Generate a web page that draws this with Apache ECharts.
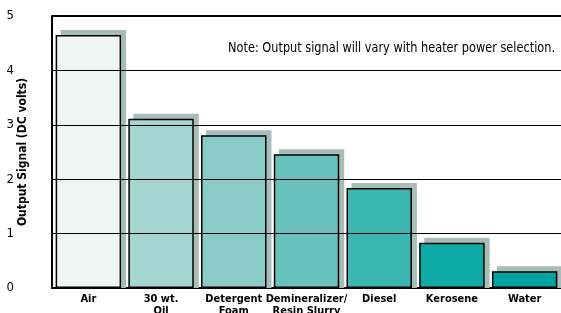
<!DOCTYPE html>
<html>
<head>
<meta charset="utf-8">
<script src="https://cdn.jsdelivr.net/npm/echarts@6/dist/echarts.min.js"></script>
<style>
  html, body { margin: 0; padding: 0; background: #fff; }
  #chart { width: 561px; height: 313px; }
</style>
</head>
<body>
<div id="chart"></div>
<script>
// 数据
var categories = ['Air', '30 wt.\nOil', 'Detergent\nFoam', 'Demineralizer/\nResin Slurry', 'Diesel', 'Kerosene', 'Water'];
var values = [4.65, 3.11, 2.81, 2.46, 1.84, 0.83, 0.31];
var barColors = ['#eef5f2', '#a4d5d0', '#89cbc6', '#68c1bc', '#3cb6b1', '#0eaba7', '#00a4a0'];
var yTicks = [1, 2, 3, 4, 5];

var FONT = '"DejaVu Sans Condensed", "Liberation Sans Narrow", sans-serif';

var chart = echarts.init(document.getElementById('chart'));

var barData = [];
for (var i = 0; i < values.length; i++) {
    barData.push({value: values[i], itemStyle: {color: barColors[i]}});
}

var lines = [];
for (var j = 0; j < yTicks.length; j++) {
    lines.push({yAxis: yTicks[j], lineStyle: {width: yTicks[j] === 5 ? 2 : 1}});
}

//阴影
function renderShadow(params, api) {
    var top = api.coord([api.value(0), api.value(1)]);
    var base = api.coord([api.value(0), 0]);
    var w = api.size([1, 0])[0] * 0.9;
    return {
        type: 'rect',
        shape: {x: top[0] - w / 2 + 5, y: top[1] - 5, width: w, height: base[1] - top[1] + 5},
        style: {fill: '#a7beb8'}
    };
}

var option = {
    animation: false,
    grid: {left: 52, right: 0, top: 16, bottom: 25, outerBoundsMode: 'none', containLabel: false},
    xAxis: {
        type: 'category',
        data: categories,
        axisTick: {show: false},
        axisLine: {lineStyle: {color: '#000', width: 2}},
        axisLabel: {
            margin: 5,
            interval: 0,
            color: '#000',
            fontFamily: FONT,
            fontWeight: 'bold',
            fontSize: 11,
            lineHeight: 12
        }
    },
    yAxis: {
        type: 'value',
        min: 0,
        max: 5,
        interval: 1,
        name: 'Output Signal (DC volts)',
        nameLocation: 'middle',
        nameGap: 23,
        nameMoveOverlap: false,
        nameTextStyle: {color: '#000', fontFamily: FONT, fontWeight: 'bold', fontSize: 12},
        axisLine: {show: true, lineStyle: {color: '#000', width: 2}},
        axisTick: {show: false},
        splitLine: {show: false},
        axisLabel: {margin: 38, color: '#000', fontFamily: FONT, fontSize: 13}
    },
    graphic: [{
        type: 'text',
        x: 555,
        y: 41,
        scaleX: 0.9,
        style: {
            text: 'Note: Output signal will vary with heater power selection.',
            fill: '#000',
            align: 'right',
            font: '14px ' + FONT
        }
    }],
    series: [{
        type: 'custom',
        renderItem: renderShadow,
        data: values.map(function (v, k) { return [k, v]; }),
        z: 1,
        silent: true
    }, {
        type: 'bar',
        data: barData,
        barWidth: '90%',
        z: 2,
        itemStyle: {
            borderColor: '#000',
            borderWidth: 1.5
        },
        markLine: {
            silent: true,
            symbol: 'none',
            label: {show: false},
            lineStyle: {color: '#000', type: 'solid', width: 1},
            data: lines
        }
    }]
};

chart.setOption(option);
</script>
</body>
</html>
